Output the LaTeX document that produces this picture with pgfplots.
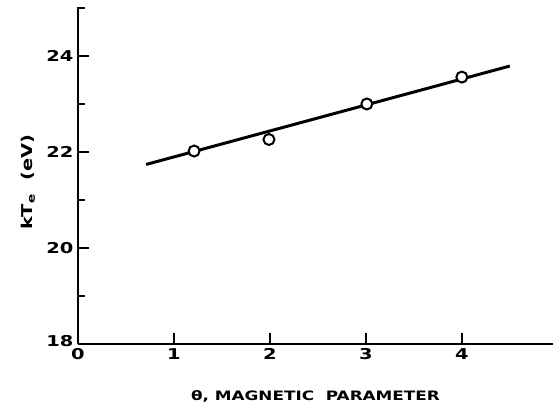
\documentclass[border=0pt]{standalone}
\usepackage{fontspec}
\setmainfont[FakeStretch=1.3]{DejaVu Sans}
\usepackage{pgfplots}
\pgfplotsset{compat=1.18}
\begin{document}
\begin{tikzpicture}
\begin{axis}[name=ax, scale only axis, width=475bp, height=337bp,
  xmin=0, xmax=4.95, ymin=18, ymax=25.02,
  axis lines=left, axis line style={-, line width=1.6pt},
  xtick={0,1,2,3,4},
  ytick={18,20,22,24}, minor ytick={19,21,23,25},
  yticklabels={\raisebox{6bp}{18},20,22,24},
  tick align=inside, major tick length=11bp, minor tick length=7bp,
  every tick/.style={black, line width=1.4pt},
  tick label style={font=\bfseries\fontsize{15}{15}\selectfont},
  /pgf/number format/assume math mode=true,
  xticklabel style={yshift=-1bp},
  yticklabel style={xshift=-1bp},
  xlabel={θ,\ MAGNETIC\ \ PARAMETER},
  ylabel={kT\textsubscript{e}\ \ (eV)},
  xlabel style={font=\bfseries\fontsize{13}{13}\selectfont, anchor=center, at={(axis description cs:0.5,-0.157)}},
  ylabel style={font=\bfseries\fontsize{15}{15}\selectfont, anchor=center, rotate=0, at={(axis description cs:-0.105,0.48)}},
  clip=false
]
\addplot[black, line width=3pt] coordinates {(0.71,21.74) (4.5,23.79)};
\addplot[only marks, mark=*, mark size=5.5bp, mark options={fill=white, draw=black, line width=2pt}]
  coordinates {(1.21,22.02) (1.99,22.26) (3.01,23.0) (4.0,23.56)};
\end{axis}
\pgfresetboundingbox
\path ([xshift=-78bp,yshift=-70bp]ax.south west) rectangle ([xshift=1bp,yshift=7bp]ax.north east);
\end{tikzpicture}
\end{document}
